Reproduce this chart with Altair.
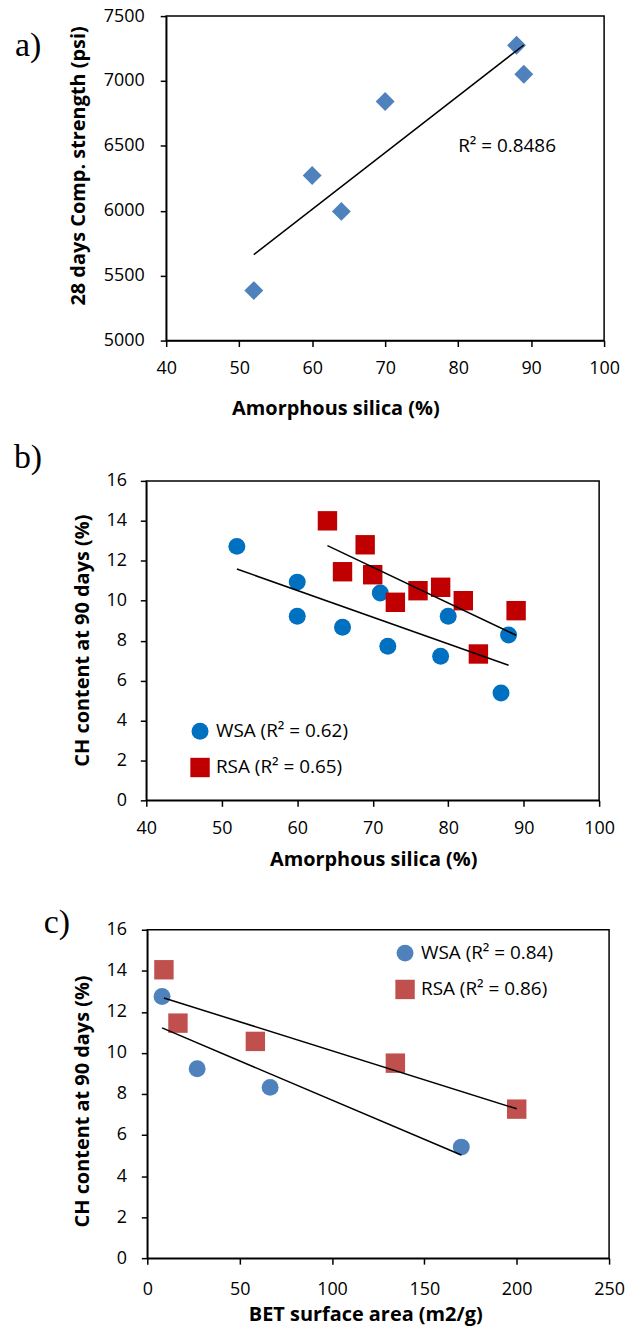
import altair as alt
import pandas as pd

FONT = "Open Sans"
SERIF = "Liberation Serif"

# ---------------- data ----------------
a_silica = [52, 60, 64, 70, 88, 89]
a_strength = [5385, 6272, 5995, 6842, 7275, 7052]
a_r2_text = "R² = 0.8486"
a_xticks = [40, 50, 60, 70, 80, 90, 100]
a_yticks = [5000, 5500, 6000, 6500, 7000, 7500]

b_wsa_silica = [52, 60, 60, 66, 71, 72, 79, 80, 87, 88]
b_wsa_ch = [12.72, 10.93, 9.22, 8.67, 10.38, 7.72, 7.22, 9.22, 5.38, 8.28]
b_rsa_silica = [64, 66, 69, 70, 73, 76, 79, 82, 84, 89]
b_rsa_ch = [14.0, 11.45, 12.8, 11.3, 9.92, 10.5, 10.67, 10.0, 7.33, 9.5]
b_xticks = [40, 50, 60, 70, 80, 90, 100]
b_yticks = [0, 2, 4, 6, 8, 10, 12, 14, 16]

c_wsa_bet = [8, 27, 66.5, 170]
c_wsa_ch = [12.75, 9.23, 8.32, 5.41]
c_rsa_bet = [9, 16.6, 58.5, 134.3, 200]
c_rsa_ch = [14.05, 11.45, 10.56, 9.5, 7.26]
c_xticks = [0, 50, 100, 150, 200, 250]
c_yticks = [0, 2, 4, 6, 8, 10, 12, 14, 16]

series_names = ["WSA", "RSA"]
b_legend_labels = ["WSA (R² = 0.62)", "RSA (R² = 0.65)"]
c_legend_labels = ["WSA (R² = 0.84)", "RSA (R² = 0.86)"]
b_colors = ["#0070C0", "#C00000"]
c_colors = ["#4F81BD", "#C0504D"]
a_color = "#4F81BD"
shapes = ["circle", "square"]
marker_sizes = [290, 380]

ANCHOR_COLOR = "white"


# ---------------- helpers ----------------
def anchors(px_left, px_top, top_y, bottom_y):
    d = pd.DataFrame({"k": [0]})
    top = alt.Chart(d).mark_rule(color=ANCHOR_COLOR, strokeWidth=1).encode(
        x=alt.value(4 - px_left), x2=alt.value(6 - px_left),
        y=alt.value(top_y - px_top))
    bot = alt.Chart(d).mark_rule(color=ANCHOR_COLOR, strokeWidth=1).encode(
        x=alt.value(4 - px_left), x2=alt.value(6 - px_left),
        y=alt.value(bottom_y - px_top))
    return [top, bot]


def spacer():
    return alt.Chart(pd.DataFrame({"k": [0]})).mark_rule(color="white").encode(
        x=alt.value(0), x2=alt.value(1), y=alt.value(0)
    ).properties(width=1, height=1, view=alt.ViewBackground(stroke=None))


def panel_label(txt, px_left, px_top, lx, ly):
    return alt.Chart(pd.DataFrame({"t": [txt]})).mark_text(
        font=SERIF, fontSize=34, align="left", baseline="middle", color="black"
    ).encode(x=alt.value(lx - px_left), y=alt.value(ly - px_top), text="t:N")


def x_axis(title, ticks, tx, ty, lpad):
    return alt.Axis(values=ticks, title=title, titleX=tx, titleY=ty,
                    titleBaseline="middle", titleAlign="center",
                    labelBaseline="middle", labelPadding=lpad, labelFlush=False,
                    format="d")


def y_axis(title, ticks, tx, ty, lpad):
    return alt.Axis(values=ticks, title=title, titleX=tx, titleY=ty,
                    titleAngle=270, titleBaseline="middle", titleAlign="center",
                    labelPadding=lpad, labelFlush=False, format="d")


def legend_expr(labels):
    return (f"datum.label == '{series_names[0]}' ? '{labels[0]}' : '{labels[1]}'")


def series_frame(xs, ys, name):
    return pd.DataFrame({"x": xs, "y": ys, "series": name, "kind": name})


def make_legend(lx, ly, labels):
    return alt.Legend(orient="none", legendX=lx, legendY=ly, title=None,
                      labelFont=FONT, labelFontSize=19, labelColor="black",
                      symbolSize=120, symbolStrokeWidth=0, rowPadding=16,
                      padding=0, labelOffset=6, labelExpr=legend_expr(labels))


# ---------------- panel a ----------------
AL, AT, AW, AH = 166, 15, 440, 326
dfa = pd.DataFrame({"x": a_silica, "y": a_strength})
xa = alt.X("x:Q", scale=alt.Scale(domain=[40, 100], nice=False),
           axis=x_axis("Amorphous silica (%)", a_xticks, 170, 68, 22))
ya = alt.Y("y:Q", scale=alt.Scale(domain=[5000, 7500], nice=False, zero=False),
           axis=y_axis("28 days Comp. strength (psi)", a_yticks, -88, 150, 16))
pts_a = alt.Chart(dfa).mark_point(shape="diamond", filled=True, size=360,
                                  color=a_color, opacity=1).encode(x=xa, y=ya)
trend_a = alt.Chart(dfa).transform_regression("x", "y").mark_line(
    color="black", strokeWidth=1.5).encode(x="x:Q", y="y:Q")
r2_a = alt.Chart(pd.DataFrame({"t": [a_r2_text]})).mark_text(
    font=FONT, fontSize=19, align="left", baseline="middle", color="black"
).encode(x=alt.datum(80), y=alt.datum(6500), text="t:N")
panel_a = alt.layer(
    *anchors(AL, AT, 4, 429.5), pts_a, trend_a, r2_a,
    panel_label("a)", AL, AT, 14, 45),
).properties(width=AW, height=AH)

# ---------------- panel b ----------------
BL, BT, BW, BH = 146, 480, 455, 321
dfb = pd.concat([series_frame(b_wsa_silica, b_wsa_ch, series_names[0]),
                 series_frame(b_rsa_silica, b_rsa_ch, series_names[1])])
leg_b = make_legend(190, 242, b_legend_labels)
xb = alt.X("x:Q", scale=alt.Scale(domain=[40, 100], nice=False),
           axis=x_axis("Amorphous silica (%)", b_xticks, 228, 59, 22))
yb = alt.Y("y:Q", scale=alt.Scale(domain=[0, 16], nice=False),
           axis=y_axis("CH content at 90 days (%)", b_yticks, -64, 160, 14))
pts_b = alt.Chart(dfb).mark_point(filled=True, opacity=1).encode(
    x=xb, y=yb,
    color=alt.Color("series:N", scale=alt.Scale(domain=series_names, range=b_colors), legend=leg_b),
    shape=alt.Shape("series:N", scale=alt.Scale(domain=series_names, range=shapes), legend=leg_b),
    size=alt.Size("kind:N", scale=alt.Scale(domain=series_names, range=marker_sizes), legend=None),
)
trend_b = alt.Chart(dfb).transform_regression("x", "y", groupby=["series"]).mark_line(
    color="black", strokeWidth=1.5).encode(x="x:Q", y="y:Q", detail="series:N")
panel_b = alt.layer(
    *anchors(BL, BT, 430.5, 879.5), pts_b, trend_b,
    panel_label("b)", BL, BT, 13, 457),
).properties(width=BW, height=BH)

# ---------------- panel c ----------------
CL, CT, CW, CH = 147, 929, 464, 330
dfc = pd.concat([series_frame(c_wsa_bet, c_wsa_ch, series_names[0]),
                 series_frame(c_rsa_bet, c_rsa_ch, series_names[1])])
leg_c = make_legend(396, 14, c_legend_labels)
xc = alt.X("x:Q", scale=alt.Scale(domain=[0, 250], nice=False),
           axis=x_axis("BET surface area (m2/g)", c_xticks, 219, 57, 26))
yc = alt.Y("y:Q", scale=alt.Scale(domain=[0, 16], nice=False),
           axis=y_axis("CH content at 90 days (%)", c_yticks, -65, 172, 15))
pts_c = alt.Chart(dfc).mark_point(filled=True, opacity=1).encode(
    x=xc, y=yc,
    color=alt.Color("series:N", scale=alt.Scale(domain=series_names, range=c_colors), legend=leg_c),
    shape=alt.Shape("series:N", scale=alt.Scale(domain=series_names, range=shapes), legend=leg_c),
    size=alt.Size("kind:N", scale=alt.Scale(domain=series_names, range=marker_sizes), legend=None),
)
trend_c = alt.Chart(dfc).transform_regression("x", "y", groupby=["series"]).mark_line(
    color="black", strokeWidth=1.5).encode(x="x:Q", y="y:Q", detail="series:N")
panel_c = alt.layer(
    *anchors(CL, CT, 880.5, 1326.5), pts_c, trend_c,
    panel_label("c)", CL, CT, 43, 922),
).properties(width=CW, height=CH)


def row(panel):
    return alt.hconcat(spacer(), panel, spacing=0)


chart = alt.concat(
    row(panel_a), row(panel_b), row(panel_c), columns=1, spacing=0
).resolve_scale(color="independent", shape="independent", size="independent",
                x="independent", y="independent"
).resolve_legend(color="independent", shape="independent"
).properties(padding=0, align="none", bounds="full", background="white"
).configure_axis(
    grid=False, domainColor="black", domainWidth=1.5, tickColor="black",
    tickWidth=1.5, tickSize=6, labelFont=FONT, labelFontSize=18,
    labelColor="black", titleFont=FONT, titleFontSize=20,
    titleFontWeight="bold", titleColor="black",
).configure_view(stroke="black", strokeWidth=1.5)

chart.save("out.html", embed_options={"renderer": "svg", "actions": False})
